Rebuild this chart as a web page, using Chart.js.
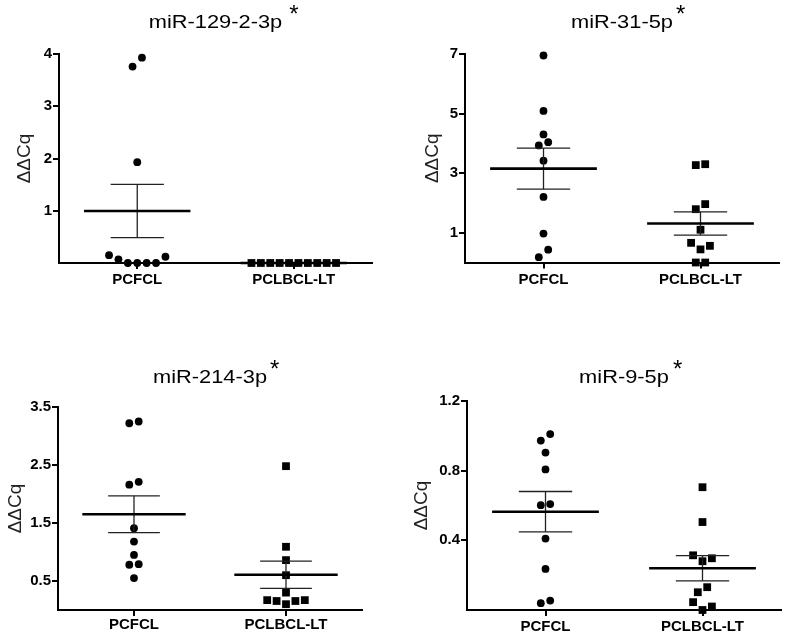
<!DOCTYPE html>
<html>
<head>
<meta charset="utf-8">
<script src="https://cdn.jsdelivr.net/npm/chart.js@4/dist/chart.umd.min.js"></script>
<style>
  html, body { margin: 0; padding: 0; background: #fff; }
  body { width: 787px; height: 637px; position: relative; overflow: hidden; }
  .panel { position: absolute; }
  canvas { display: block; }
</style>
</head>
<body>
<div class="panel" style="left:0px;top:0px"><canvas id="c0" width="393" height="310"></canvas></div>
<div class="panel" style="left:393px;top:0px"><canvas id="c1" width="394" height="310"></canvas></div>
<div class="panel" style="left:0px;top:310px"><canvas id="c2" width="393" height="327"></canvas></div>
<div class="panel" style="left:393px;top:310px"><canvas id="c3" width="394" height="327"></canvas></div>
<script>
// ---------------- data ----------------
const groups = ['PCFCL', 'PCLBCL-LT'];
const titles = ['miR-129-2-3p', 'miR-31-5p', 'miR-214-3p', 'miR-9-5p'];
const yAxisTitle = 'ΔΔCq';

const pcfcl129 = [3.76, 3.93, 1.93, 0.15, 0.07, 0, 0, 0, 0, 0.12];
const pclbcl129 = [0, 0, 0, 0, 0, 0, 0, 0, 0, 0];
const pcfcl31 = [6.95, 5.09, 4.30, 3.93, 4.04, 3.42, 2.20, 0.97, 0.43, 0.18];
const pclbcl31 = [3.27, 3.30, 1.96, 1.79, 1.10, 0.56, 0.44, 0.66, 0, 0];
const pcfcl214 = [3.22, 3.25, 2.21, 2.16, 1.41, 1.18, 0.95, 0.79, 0.78, 0.55];
const pclbcl214 = [2.48, 1.09, 0.86, 0.60, 0.30, 0.17, 0.155, 0.10, 0.155, 0.17];
const pcfcl9 = [1.01, 0.973, 0.904, 0.807, 0.608, 0.602, 0.41, 0.236, 0.054, 0.039];
const pclbcl9 = [0.705, 0.505, 0.314, 0.28, 0.297, 0.131, 0.102, 0.045, 0.02, 0];

const yMax = [4, 7, 3.5, 1.2];
const yTicks129 = [1, 2, 3, 4];
const yTicks31 = [1, 3, 5, 7];
const yTicks214 = [0.5, 1.5, 2.5, 3.5];
const yTicks9 = [0.4, 0.8, 1.2];
const yTickLabels129 = ['1', '2', '3', '4'];
const yTickLabels31 = ['1', '3', '5', '7'];
const yTickLabels214 = ['0.5', '1.5', '2.5', '3.5'];
const yTickLabels9 = ['0.4', '0.8', '1.2'];

const panelGroups = [[pcfcl129, pclbcl129], [pcfcl31, pclbcl31], [pcfcl214, pclbcl214], [pcfcl9, pclbcl9]];
const panelTicks = [yTicks129, yTicks31, yTicks214, yTicks9];
const panelTickLabels = [yTickLabels129, yTickLabels31, yTickLabels214, yTickLabels9];

// ---------------- layout (not data) ----------------
const layoutCfg = [
  { yw: 59, pt: 54, pr: 21, pb: 25, xh: 22, base: 27.5, gap: 7, ytPad: 13, xPad: 2 },
  { yw: 72, pt: 54, pr: 8,  pb: 25.5, xh: 22, base: 27.7, gap: 3, ytPad: 28, xPad: 2.5 },
  { yw: 58, pt: 97, pr: 31, pb: 5,  xh: 22, base: 72.7, gap: 3, ytPad: 4,  xPad: 0 },
  { yw: 74, pt: 91, pr: 6,  pb: 5,  xh: 22, base: 72.7, gap: 4, ytPad: 17, xPad: 2 }
];

const FONT = '"Liberation Sans", Arial, Helvetica, sans-serif';

function mean(a) { return a.reduce((s, v) => s + v, 0) / a.length; }
function sem(a) {
  const m = mean(a);
  const v = a.reduce((s, x) => s + (x - m) * (x - m), 0) / (a.length - 1);
  return Math.sqrt(v / a.length);
}

const titlePlugin = {
  id: 'panelTitle',
  afterDraw(chart, args, opts) {
    const ctx = chart.ctx, ca = chart.chartArea;
    const sx = 1.18;
    ctx.save();
    ctx.fillStyle = '#000';
    ctx.font = '18.5px ' + FONT;
    ctx.textBaseline = 'alphabetic';
    ctx.textAlign = 'left';
    const w = ctx.measureText(opts.text).width * sx;
    const x0 = (ca.left + ca.right) / 2 - w / 2;
    ctx.translate(x0, opts.baseline);
    ctx.scale(sx, 1);
    ctx.fillText(opts.text, 0, 0);
    ctx.restore();
    ctx.save();
    ctx.fillStyle = '#000';
    ctx.font = '24px ' + FONT;
    ctx.textBaseline = 'alphabetic';
    ctx.textAlign = 'left';
    ctx.fillText('*', x0 + w + opts.gap, opts.baseline - 5.5);
    ctx.restore();
  }
};

function lineDs(pts, width, color) {
  return { data: pts, showLine: true, borderColor: color, borderWidth: width,
           pointRadius: 0, pointHoverRadius: 0, clip: false, borderCapStyle: 'butt' };
}

function buildChart(i) {
  const L = layoutCfg[i];
  const datasets = [];
  panelGroups[i].forEach((vals, gi) => {
    const m = mean(vals), s = sem(vals);
    datasets.push(lineDs([{ x: gi - 0.34, y: m }, { x: gi + 0.34, y: m }], 2.6, '#000'));
    datasets.push(lineDs([{ x: gi - 0.17, y: m + s }, { x: gi + 0.17, y: m + s }], 1.3, '#222'));
    datasets.push(lineDs([{ x: gi - 0.17, y: m - s }, { x: gi + 0.17, y: m - s }], 1.3, '#222'));
    datasets.push(lineDs([{ x: gi, y: m - s }, { x: gi, y: m + s }], 1.3, '#222'));
    datasets.push({
      data: vals.map(v => ({ x: gi, y: v })),
      swarm: true, groupIndex: gi,
      pointStyle: gi === 0 ? 'circle' : 'rect',
      pointRadius: gi === 0 ? 3.9 : 5.5,
      pointHoverRadius: gi === 0 ? 3.9 : 5.5,
      backgroundColor: '#000', borderColor: '#000', borderWidth: 0,
      clip: false
    });
  });

  const chart = new Chart(document.getElementById('c' + i), {
    type: 'scatter',
    data: { datasets },
    plugins: [titlePlugin],
    options: {
      responsive: false,
      animation: false,
      devicePixelRatio: 1,
      layout: { padding: { left: 0, top: L.pt, right: L.pr, bottom: L.pb } },
      plugins: {
        legend: { display: false },
        tooltip: { enabled: false },
        panelTitle: { text: titles[i], baseline: L.base, gap: L.gap }
      },
      scales: {
        x: {
          type: 'linear', min: -0.5, max: 1.5,
          afterBuildTicks: sc => { sc.ticks = groups.map((g, k) => ({ value: k })); },
          afterFit: sc => { sc.height = L.xh; },
          ticks: {
            callback: v => groups[v],
            font: { family: FONT, weight: 'bold', size: 15 },
            color: '#000', padding: L.xPad, maxRotation: 0, autoSkip: false
          },
          grid: { display: true, drawOnChartArea: false, drawTicks: true, tickLength: 6, color: '#000', lineWidth: 2 },
          border: { display: true, color: '#000', width: 2 }
        },
        y: {
          type: 'linear', min: 0, max: yMax[i],
          afterBuildTicks: sc => { sc.ticks = panelTicks[i].map(v => ({ value: v })); },
          afterFit: sc => { sc.width = L.yw; },
          ticks: {
            callback: (v, idx) => panelTickLabels[i][idx],
            font: { family: FONT, weight: 'bold', size: 15 },
            color: '#000', padding: 1
          },
          grid: { display: true, drawOnChartArea: false, drawTicks: true, tickLength: 6, color: '#000', lineWidth: 2 },
          border: { display: true, color: '#000', width: 2 },
          title: {
            display: true, text: yAxisTitle, color: '#222',
            font: { family: FONT, size: 19 },
            padding: { top: L.ytPad, bottom: 0 }
          }
        }
      }
    }
  });

  // arrange points horizontally so that overlapping points sit side by side
  const ys = chart.scales.y, xs = chart.scales.x;
  const pxPerUnit = xs.getPixelForValue(1) - xs.getPixelForValue(0);
  const step = 9.4 / pxPerUnit;
  chart.data.datasets.forEach(ds => {
    if (!ds.swarm) return;
    const items = ds.data.map((p, k) => ({ k, v: p.y, py: ys.getPixelForValue(p.y) }));
    items.sort((a, b) => a.v - b.v);
    const rows = [];
    items.forEach(it => {
      const last = rows[rows.length - 1];
      if (last && Math.abs(it.py - last[0].py) < 9.3) last.push(it); else rows.push([it]);
    });
    rows.forEach(row => {
      const n = row.length, slots = [];
      if (n % 2) {
        slots.push(0);
        for (let j = 1; slots.length < n; j++) { slots.push(j); if (slots.length < n) slots.push(-j); }
      } else {
        for (let j = 0.5; slots.length < n; j++) { slots.push(-j); if (slots.length < n) slots.push(j); }
      }
      row.forEach((it, idx) => { ds.data[it.k].x = ds.groupIndex + slots[idx] * step; });
    });
  });
  chart.update('none');
  return chart;
}

for (let i = 0; i < 4; i++) buildChart(i);
</script>
</body>
</html>
